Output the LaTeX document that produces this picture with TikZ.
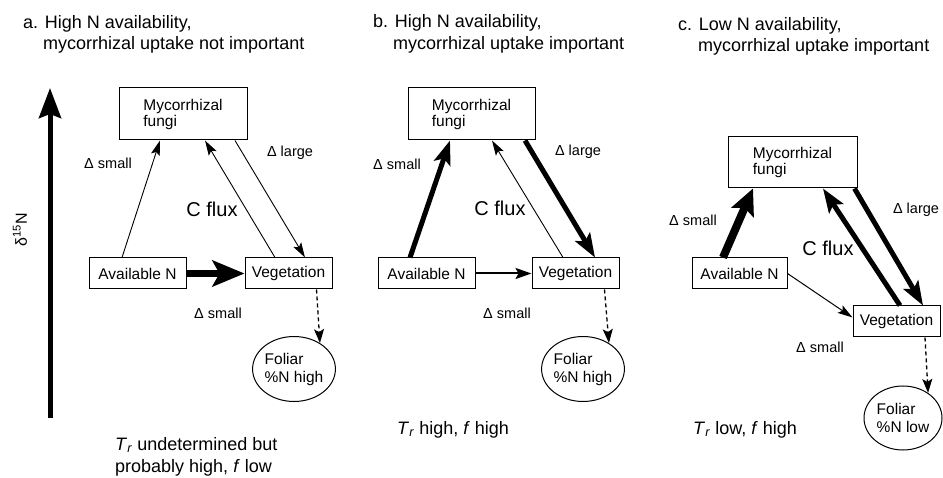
\documentclass[tikz,border=0pt]{standalone}
\usepackage{fontspec}
\setmainfont{Liberation Sans}
\usetikzlibrary{arrows.meta,shapes.geometric}
\begin{document}
\begin{tikzpicture}[x=1pt,y=-1pt,
  box/.style={draw, line width=1pt, align=left, inner sep=0pt, font=\fontsize{15.5}{16}\selectfont},
  fol/.style={draw, ellipse, line width=1pt, align=left, inner sep=0pt, minimum width=80pt, minimum height=65pt, font=\fontsize{15.5}{18}\selectfont},
  ttl/.style={anchor=base west, inner sep=0pt, font=\fontsize{18}{21}\selectfont},
  lbl/.style={inner sep=0pt, font=\fontsize{14.5}{16}\selectfont},
  cfx/.style={inner sep=0pt, font=\fontsize{20}{22}\selectfont},
  thinarr/.style={line width=0.9pt, -{Stealth[length=15pt,width=9pt,inset=3pt]}},
  medarr/.style={line width=2pt, -{Stealth[length=16pt,width=11pt,inset=3pt]}},
  thickarr/.style={line width=5pt, -{Stealth[length=24pt,width=17pt,inset=5pt]}},
  fatarr/.style={line width=7pt, -{Stealth[length=32pt,width=26pt,inset=7pt]}},
  fatarrc/.style={line width=8pt, -{Stealth[length=26pt,width=24pt,inset=5pt]}},
  dasharr/.style={line width=1.3pt, dash pattern=on 4pt off 3pt, -{Stealth[length=14pt,width=10pt,inset=3pt]}},
  axisarr/.style={line width=5pt, -{Stealth[length=30pt,width=22pt,inset=4pt]}}]
\useasboundingbox (0,0) rectangle (943,478);

% ---------- axis ----------
\coordinate (axbot) at (50,418);
\coordinate (axtop) at (50,88);
\draw[axisarr] (axbot) -- (axtop);
\node[rotate=90, inner sep=0pt, font=\fontsize{16}{18}\selectfont] (dlab) at (20,230) {δ\textsuperscript{15}N};

% ---------- panel a ----------
\node[ttl] (ta1) at (23,28.5) {a. High N availability,};
\node[ttl] (ta2) at (43,50) {mycorrhizal uptake not important};
\node[box, minimum width=128pt, minimum height=52pt] (myca) at (183,114) {Mycorrhizal\\fungi};
\node[box, minimum width=97pt, minimum height=31pt] (availa) at (137.5,273.5) {Available N};
\node[box, minimum width=87pt, minimum height=31pt] (vega) at (288.5,273.5) {Vegetation};
\node[fol] (foliara) at (294,369) {Foliar\\\%N high};
\draw[thinarr] ([xshift=-15.5pt]availa.north) -- ([xshift=-23pt]myca.south);
\draw[thinarr] ([xshift=-13.5pt]vega.north) -- ([xshift=22pt]myca.south);
\draw[thinarr] ([xshift=52pt]myca.south) -- ([xshift=16.5pt]vega.north);
\draw[fatarr] (availa.east) -- (vega.west);
\draw[dasharr] ([xshift=28pt]vega.south) -- (foliara.45);
\node[lbl] (las) at (108,163) {Δ small};
\node[lbl] (lal) at (290,153) {Δ large};
\node[cfx] (lac) at (212,209) {C flux};
\node[lbl] (lab) at (218,313) {Δ small};
\node[ttl] (ba1) at (115,450) {\textit{T}\textsubscript{\textit{r}} undetermined but};
\node[ttl] (ba2) at (115,472) {probably high, \textit{f} low};

% ---------- panel b ----------
\node[ttl] (tb1) at (373,28) {b. High N availability,};
\node[ttl] (tb2) at (393,49.5) {mycorrhizal uptake important};
\node[box, minimum width=127pt, minimum height=52pt] (mycb) at (471.5,114) {Mycorrhizal\\fungi};
\node[box, minimum width=97pt, minimum height=31pt] (availb) at (426.5,273.5) {Available N};
\node[box, minimum width=87pt, minimum height=31pt] (vegb) at (575.5,273.5) {Vegetation};
\node[fol] (foliarb) at (583,369) {Foliar\\\%N high};
\draw[thickarr] ([xshift=-16.5pt]availb.north) -- ([xshift=-21.5pt]mycb.south);
\draw[thinarr] ([xshift=-12.5pt]vegb.north) -- ([xshift=20.5pt]mycb.south);
\draw[thickarr] ([xshift=53.5pt]mycb.south) -- ([xshift=19.5pt]vegb.north);
\draw[medarr] (availb.east) -- (vegb.west);
\draw[dasharr] ([xshift=29pt]vegb.south) -- (foliarb.45);
\node[lbl] (lbs) at (397,164) {Δ small};
\node[lbl] (lbl) at (578,152) {Δ large};
\node[cfx] (lbc) at (500,208) {C flux};
\node[lbl] (lbb) at (507,313) {Δ small};
\node[ttl] (bb1) at (397,434) {\textit{T}\textsubscript{\textit{r}} high, \textit{f} high};

% ---------- panel c ----------
\node[ttl] (tc1) at (678,31) {c. Low N availability,};
\node[ttl] (tc2) at (698,52) {mycorrhizal uptake important};
\node[box, minimum width=129pt, minimum height=51pt] (mycc) at (792.5,162.5) {Mycorrhizal\\fungi};
\node[box, minimum width=95pt, minimum height=31pt] (availc) at (739.5,273.5) {Available N};
\node[box, minimum width=87pt, minimum height=31pt] (vegc) at (896.5,321.5) {Vegetation};
\node[fol, minimum width=78pt, minimum height=64pt] (foliarc) at (903,418) {Foliar\\\%N low};
\draw[fatarrc] ([xshift=-16.5pt]availc.north) -- ([xshift=-39.5pt]mycc.south);
\draw[thickarr] ([xshift=3.5pt]vegc.north) -- ([xshift=30.5pt]mycc.south);
\draw[thickarr] ([xshift=62pt]mycc.south) -- ([xshift=26.5pt]vegc.north);
\draw[thinarr, line width=1pt] (availc.east) -- ([yshift=4pt]vegc.west);
\draw[dasharr] ([xshift=28.5pt]vegc.south) -- (foliarc.45);
\node[lbl] (lcs) at (693,220) {Δ small};
\node[lbl] (lcl) at (916,210) {Δ large};
\node[cfx] (lcc) at (828,248) {C flux};
\node[lbl] (lcb) at (820,347) {Δ small};
\node[ttl] (bc1) at (693,434) {\textit{T}\textsubscript{\textit{r}} low, \textit{f} high};
\end{tikzpicture}
\end{document}
